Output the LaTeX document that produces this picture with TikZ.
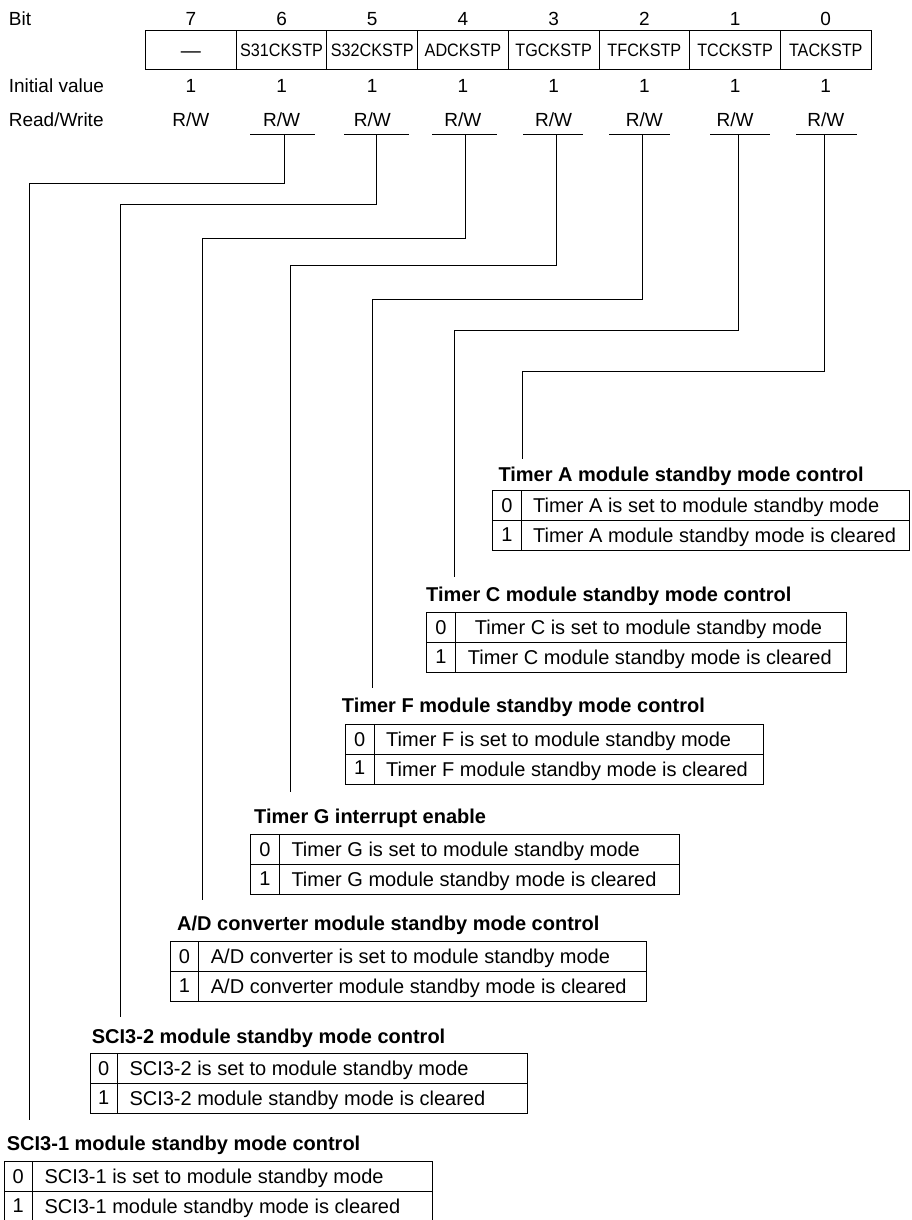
\documentclass[tikz,border=0pt]{standalone}
\usepackage{fontspec}
\setmainfont{Liberation Sans}
\newfontfamily\regfont[FakeStretch=0.9]{Liberation Sans}
\tikzset{
  lbl/.style={inner sep=0pt, font=\fontsize{19}{22}\selectfont, text height=13.6pt, text depth=0pt},
  regname/.style={inner sep=0pt, font=\regfont\fontsize{18}{21}\selectfont, text height=12.9pt, text depth=0pt},
  ttl/.style={inner sep=0pt, anchor=west, font=\fontsize{20}{24}\selectfont\bfseries, text height=14.3pt, text depth=0pt},
  celltext/.style={inner sep=0pt, anchor=west, font=\fontsize{20}{24}\selectfont, text height=14.3pt, text depth=0pt},
  digit/.style={inner sep=0pt, font=\fontsize{20}{24}\selectfont, text height=14.3pt, text depth=0pt},
  ln/.style={line width=1pt, line cap=rect}
}
% #1 name, #2 left, #3 divider, #4 right, #5 top, #6 text for 0, #7 text for 1
\newcommand\modtable[7]{%
  \draw[ln] (#2,#5) rectangle (#4,#5+60);
  \draw[ln] (#2,#5+30) -- (#4,#5+30);
  \draw[ln] (#3,#5) -- (#3,#5+60);
  \node[digit] (#1d0) at ({(#2+#3)/2},#5+15) {0};
  \node[digit] (#1d1) at ({(#2+#3)/2},#5+43.5) {1};
  \node[celltext] (#1t0) at (#3+12,#5+15) {#6};
  \node[celltext] (#1t1) at (#3+12,#5+45) {#7};
}
\begin{document}
\begin{tikzpicture}[x=1pt,y=-1pt]
\useasboundingbox (0,0) rectangle (911,1220);

% left labels
\node[lbl, anchor=west] (lbit) at (8.7,18.3) {Bit};
\node[lbl, anchor=west] (linit) at (8.7,86) {Initial value};
\node[lbl, anchor=west] (lrw) at (8.7,120) {Read/Write};

% bit numbers, initial values, R/W
\foreach \b [count=\i from 0] in {7,6,5,4,3,2,1,0} {
  \node[lbl] (bit\b) at ({190.85+90.7*\i},18.3) {\b};
  \node[lbl] (iv\b) at ({190.85+90.7*\i},86) {1};
  \node[lbl] (rw\b) at ({190.85+90.7*\i},120) {R/W};
}

% register
\draw[ln] (145.5,30.7) rectangle (871.1,69.3);
\foreach \i in {1,...,7} {
  \draw[ln] ({145.5+90.7*\i},30.7) -- ({145.5+90.7*\i},69.3);
}
\node[digit] (f7) at (190.85,50) {—};
\foreach \n [count=\i from 1] in {S31CKSTP,S32CKSTP,ADCKSTP,TGCKSTP,TFCKSTP,TCCKSTP,TACKSTP} {
  \node[regname] (f\i) at ({190.85+90.7*\i},50) {\n};
}

% underlines and connectors
\foreach \b/\ua/\ub/\vx/\hy/\lx/\ey in {
  6/250/314.3/284/183.3/29.5/1119.3,
  5/344/408.7/376.7/204.2/120.7/1016,
  4/432.3/496.7/465.2/238.3/202.5/899.3,
  3/523.3/582.7/556/265.7/290.8/791.7,
  2/609.3/669.3/642/299.7/372.4/687.3,
  1/710/769.7/738.3/330.3/454/576,
  0/796/856/824.3/371/522/458.7} {
  \coordinate (ula\b) at (\ua,135);
  \coordinate (ulb\b) at (\ub,135);
  \coordinate (top\b) at (\vx,135);
  \coordinate (bend\b) at (\lx,\hy);
  \coordinate (end\b) at (\lx,\ey);
  \draw[ln] (ula\b) -- (ulb\b);
  \draw[ln] (top\b) |- (bend\b) -- (end\b);
}

% Timer A
\node[ttl] (ttlA) at (498.3,474) {Timer A module standby mode control};
\modtable{tA}{492.7}{521}{909}{490.7}{Timer A is set to module standby mode}{Timer A module standby mode is cleared}

% Timer C
\node[ttl] (ttlC) at (426,594.3) {Timer C module standby mode control};
\modtable{tC}{426}{455.7}{846}{612.7}{\hspace{7pt}Timer C is set to module standby mode}{Timer C module standby mode is cleared}

% Timer F
\node[ttl] (ttlF) at (341.7,705.7) {Timer F module standby mode control};
\modtable{tF}{345.3}{374}{763.3}{724}{Timer F is set to module standby mode}{Timer F module standby mode is cleared}

% Timer G
\node[ttl] (ttlG) at (254,816) {Timer G interrupt enable};
\modtable{tG}{250.7}{279.3}{679.3}{834.5}{Timer G is set to module standby mode}{Timer G module standby mode is cleared}

% A/D
\node[ttl] (ttlAD) at (177,923.3) {A/D converter module standby mode control};
\modtable{tAD}{170}{198.7}{646.7}{941.7}{A/D converter is set to module standby mode}{A/D converter module standby mode is cleared}

% SCI3-2
\node[ttl] (ttlS2) at (91.7,1036) {SCI3-2 module standby mode control};
\modtable{tS2}{90}{117.3}{527.3}{1053.5}{SCI3-2 is set to module standby mode}{SCI3-2 module standby mode is cleared}

% SCI3-1
\node[ttl] (ttlS1) at (6.7,1143.3) {SCI3-1 module standby mode control};
\modtable{tS1}{4}{32.3}{432.7}{1161.7}{SCI3-1 is set to module standby mode}{SCI3-1 module standby mode is cleared}

\end{tikzpicture}
\end{document}
